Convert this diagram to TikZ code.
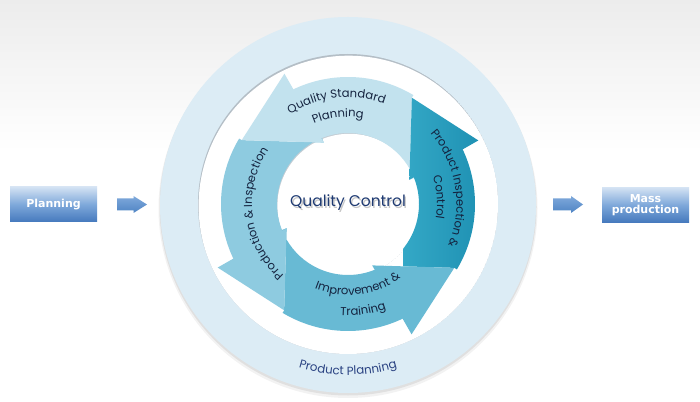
\documentclass[tikz,border=0pt]{standalone}
\usepackage{fontspec}
\newfontfamily\popf{Poppins}
\newfontfamily\dejab{DejaVu Sans}
\usetikzlibrary{decorations.text}
\definecolor{bgtop}{HTML}{ECECEC}
\definecolor{pale}{HTML}{DCECF5}
\definecolor{paleshadow}{HTML}{B4BEC6}
\definecolor{holeshadow}{HTML}{C4CDD4}
\definecolor{arrA}{HTML}{C2E2EE}
\definecolor{arrB}{HTML}{8ECBE0}
\definecolor{arrC}{HTML}{68BAD4}
\definecolor{arrDl}{HTML}{34A8C6}
\definecolor{arrDr}{HTML}{1A8CAF}
\definecolor{navy}{HTML}{14233F}
\definecolor{qcnavy}{HTML}{1E3A72}
\definecolor{ppnavy}{HTML}{2A4282}
\definecolor{boxtop}{HTML}{D3E2F3}
\definecolor{boxmid}{HTML}{7EA8DA}
\definecolor{boxbot}{HTML}{4579BD}
\definecolor{barrowt}{HTML}{7FA9DB}
\definecolor{barrowb}{HTML}{4F84C4}
\newcommand\ringfont{\popf\fontsize{11.6}{13}\selectfont}
\newcommand\ppfont{\popf\fontsize{11.8}{13}\selectfont}
% #1 head angle
\newcommand\ringbodypath[1]{({#1-94.5}:66pt) -- ({#1-57}:124pt) -- ({#1-57}:127pt) arc[start angle={#1-57}, end angle={#1}, radius=127pt] -- ({#1}:71pt) arc[start angle={#1}, end angle={#1-94.5}, radius=71pt] -- cycle}
\newcommand\ringheadpath[1]{({#1-4.5}:66pt) -- ({#1}:145pt) -- ({#1+33}:124pt) -- cycle}
\begin{document}
\begin{tikzpicture}[x=1pt,y=1pt,
  flowbox/.style={shade, top color=boxtop, bottom color=boxbot, middle color=boxmid,
    minimum width=87pt, minimum height=35pt, inner sep=0pt, text=white,
    font=\dejab\bfseries\fontsize{11}{11.5}\selectfont, align=center},
  ringlabel/.style={decorate, decoration={text along path, text align=center, text color=navy}},
]
\useasboundingbox (0,0) rectangle (700,401);
% background
\fill[white] (0,0) rectangle (700,401);
\shade[top color=bgtop, bottom color=white] (0,250) rectangle (700,401);
% outer pale ring with soft drop shadow
\fill[black, opacity=0.05] (348,192.5) circle[radius=189.5pt];
\fill[black, opacity=0.07] (348,194) circle[radius=188.5pt];
\fill[pale] (348,196) circle[radius=188pt];
\begin{scope}
  \clip (348,197) circle[radius=150pt];
  \fill[paleshadow] (348,197) circle[radius=150pt];
  \fill[white] (348.6,195.3) circle[radius=150pt];
\end{scope}
% hole shadow
\begin{scope}
  \clip (348,197) circle[radius=72pt];
  \fill[holeshadow] (348,197) circle[radius=72pt];
  \fill[white] (349.4,195.2) circle[radius=72pt];
\end{scope}
% ring of arrows
\begin{scope}[shift={(348,197)}]
  \fill[arrA] \ringbodypath{116};
  \fill[arrB] \ringbodypath{206};
  \fill[arrC] \ringbodypath{296};
  \begin{scope}
    \clip \ringbodypath{26};
    \shade[left color=arrDl, right color=arrDr] (55,-140) rectangle (150,140);
  \end{scope}
  \fill[arrA] \ringheadpath{116};
  \fill[arrB] \ringheadpath{206};
  \fill[arrC] \ringheadpath{296};
  \begin{scope}
    \clip \ringheadpath{26};
    \shade[left color=arrDl, right color=arrDr] (55,-140) rectangle (150,140);
  \end{scope}
  % ring labels
  \path[ringlabel, decoration={text={|\ringfont|Quality Standard}}]
    (156.5:106.5pt) arc[start angle=156.5, end angle=36.5, radius=106.5pt];
  \path[ringlabel, decoration={text={|\ringfont|Planning}}]
    (156.5:87pt) arc[start angle=156.5, end angle=36.5, radius=87pt];
  \path[ringlabel, decoration={text={|\ringfont|Product Inspection {\&}}}]
    (79:108.5pt) arc[start angle=79, end angle=-61, radius=108.5pt];
  \path[ringlabel, decoration={text={|\ringfont|Control}}]
    (74.3:89pt) arc[start angle=74.3, end angle=-65.7, radius=89pt];
  \path[ringlabel, decoration={text={|\ringfont|Production {\&} Inspection}}]
    (267:96pt) arc[start angle=267, end angle=107, radius=96pt];
  \path[ringlabel, decoration={text={|\ringfont|Improvement {\&}}}]
    (217:91pt) arc[start angle=217, end angle=337, radius=91pt];
  \path[ringlabel, decoration={text={|\ringfont|Training}}]
    (218:111.5pt) arc[start angle=218, end angle=338, radius=111.5pt];
  \path[ringlabel, decoration={text color=ppnavy, text={|\ppfont|Product Planning}}]
    (215:171pt) arc[start angle=215, end angle=325, radius=171pt];
\end{scope}
% centre label
\node[font=\popf\fontsize{15.5}{17}\selectfont, text=black!22] (qcshadow) at (349.4,196.6) {Quality Control};
\node[font=\popf\fontsize{15.5}{17}\selectfont, text=qcnavy] (qc) at (348,198) {Quality Control};
% side boxes and arrows
\node[flowbox] (plan) at (53.5,196.5) {Planning};
\node[flowbox] (mass) at (645.5,196) {Mass\\production};
\shade[top color=barrowt, bottom color=barrowb] (117,190.5) -- (133.5,190.5) -- (133.5,188) -- (147,196.5) -- (133.5,205) -- (133.5,202.5) -- (117,202.5) -- cycle;
\shade[top color=barrowt, bottom color=barrowb] (553,190.5) -- (571,190.5) -- (571,188) -- (583,196.5) -- (571,205) -- (571,202.5) -- (553,202.5) -- cycle;
\end{tikzpicture}
\end{document}
